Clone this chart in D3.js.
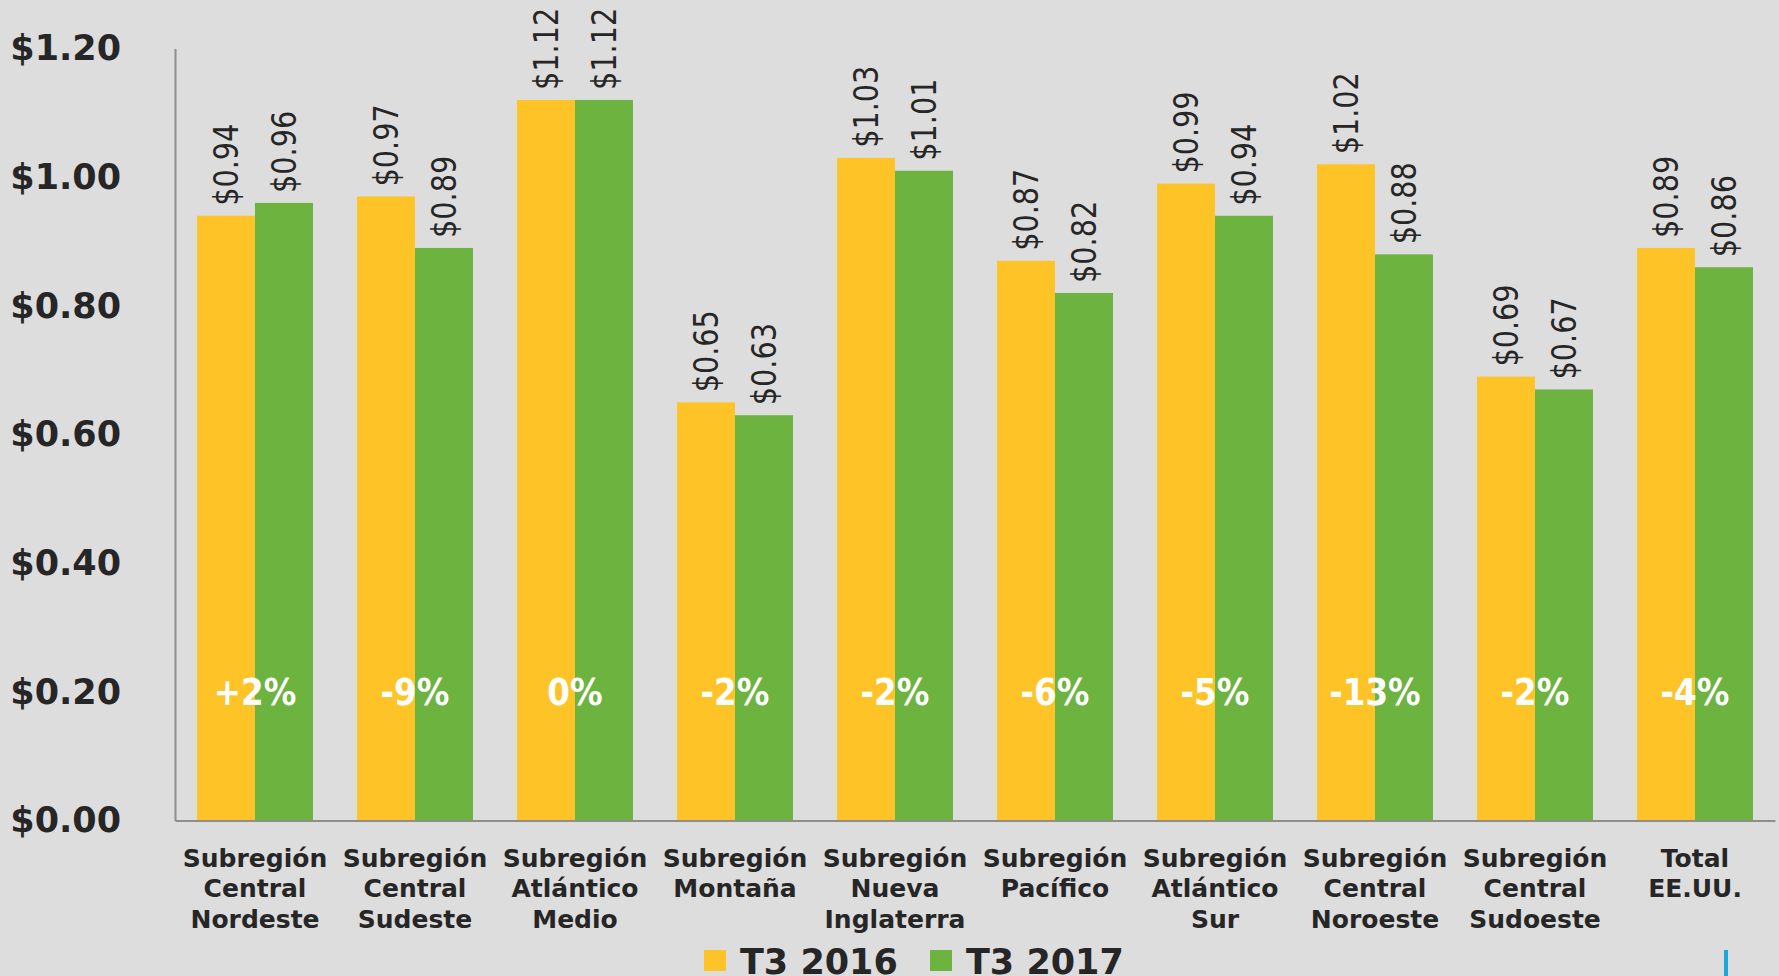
<!DOCTYPE html>
<html>
<head>
    <meta charset="utf-8">
    <title>Subregiones T3 2016 vs T3 2017</title>
    <script src="https://cdnjs.cloudflare.com/ajax/libs/d3/7.8.5/d3.min.js"></script>
    <style>
        body {
            margin: 0;
            background: #dddddd;
        }
        svg text {
            font-family: "DejaVu Sans", sans-serif;
            fill: #262626;
        }
        .y-axis text {
            font-size: 35px;
            font-weight: bold;
        }
        .x-axis text {
            font-size: 25px;
            font-weight: bold;
        }
        .axis-line {
            stroke: #8e8e8e;
            stroke-width: 2;
        }
        .value-label {
            font-size: 33px;
        }
        .pct-label {
            font-size: 37px;
            font-weight: bold;
            fill: #ffffff !important;
        }
        .legend-label {
            font-size: 35px;
            font-weight: bold;
        }
    </style>
</head>
<body>
    <div class="chart-container"></div>
    <script>
        // categories (line breaks as in the original labels)
        const categories = [
            "Subregión\nCentral\nNordeste",
            "Subregión\nCentral\nSudeste",
            "Subregión\nAtlántico\nMedio",
            "Subregión\nMontaña",
            "Subregión\nNueva\nInglaterra",
            "Subregión\nPacífico",
            "Subregión\nAtlántico\nSur",
            "Subregión\nCentral\nNoroeste",
            "Subregión\nCentral\nSudoeste",
            "Total\nEE.UU."
        ];
        const seriesNames = ["T3 2016", "T3 2017"];
        const values2016 = [0.94, 0.97, 1.12, 0.65, 1.03, 0.87, 0.99, 1.02, 0.69, 0.89];
        const values2017 = [0.96, 0.89, 1.12, 0.63, 1.01, 0.82, 0.94, 0.88, 0.67, 0.86];
        const changes = ["+2%", "-9%", "0%", "-2%", "-2%", "-6%", "-5%", "-13%", "-2%", "-4%"];
        const yTicks = [0, 0.2, 0.4, 0.6, 0.8, 1.0, 1.2];
        const colors = ["#fec427", "#6cb33f"];

        const W = 1779, H = 976;
        const plot = { left: 175, right: 1775, top: 48.5, bottom: 820.5 };

        const svg = d3.select('.chart-container')
            .append('svg')
            .attr('width', W)
            .attr('height', H)
            .style('display', 'block');

        svg.append('rect')
            .attr('width', W)
            .attr('height', H)
            .attr('fill', '#dddddd');

        const x = d3.scaleBand()
            .domain(categories)
            .range([plot.left, plot.right]);

        const xInner = d3.scaleBand()
            .domain(seriesNames)
            .range([0, x.bandwidth()])
            .paddingOuter(0.38);

        const y = d3.scaleLinear()
            .domain([0, 1.2])
            .range([plot.bottom, plot.top]);

        const rows = categories.map((c, i) => ({
            cat: c,
            change: changes[i],
            vals: [
                { key: seriesNames[0], v: values2016[i] },
                { key: seriesNames[1], v: values2017[i] }
            ]
        }));

        // bars
        const groups = svg.selectAll('.group')
            .data(rows)
            .enter()
            .append('g')
            .attr('class', 'group')
            .attr('transform', d => `translate(${x(d.cat)},0)`);

        groups.selectAll('rect')
            .data(d => d.vals)
            .enter()
            .append('rect')
            .attr('x', d => xInner(d.key))
            .attr('y', d => y(d.v))
            .attr('width', xInner.bandwidth())
            .attr('height', d => y(0) - y(d.v))
            .attr('fill', (d, i) => colors[i]);

        // rotated value labels (squeezed a little along the text, the original font is narrower)
        groups.selectAll('.value-label')
            .data(d => d.vals)
            .enter()
            .append('text')
            .attr('class', 'value-label')
            .attr('transform', d => `translate(${xInner(d.key) + xInner.bandwidth() / 2},${y(d.v) - 10}) rotate(-90) scale(0.87,1)`)
            .attr('dominant-baseline', 'central')
            .text(d => '$' + d3.format('.2f')(d.v));

        // change labels at the $0.20 level
        groups.append('text')
            .attr('class', 'pct-label')
            .attr('transform', `translate(${x.bandwidth() / 2},${y(0.2)}) scale(0.88,1)`)
            .attr('text-anchor', 'middle')
            .attr('dominant-baseline', 'central')
            .text(d => d.change);

        // y axis
        const yAxis = svg.append('g')
            .attr('class', 'y-axis')
            .attr('transform', `translate(${plot.left},0)`)
            .call(d3.axisLeft(y)
                .tickValues(yTicks)
                .tickSize(0)
                .tickPadding(54)
                .tickFormat(d => '$' + d3.format('.2f')(d)));
        yAxis.select('.domain').attr('class', 'domain axis-line').attr('stroke', '#8e8e8e');

        // x axis
        const xAxis = svg.append('g')
            .attr('class', 'x-axis')
            .attr('transform', `translate(0,${plot.bottom})`)
            .call(d3.axisBottom(x).tickSize(0).tickFormat(''));
        xAxis.select('.domain').attr('class', 'domain axis-line').attr('stroke', '#8e8e8e');

        xAxis.selectAll('.tick text').remove();
        xAxis.selectAll('.tick')
            .append('text')
            .attr('text-anchor', 'middle')
            .selectAll('tspan')
            .data(d => d.split('\n'))
            .enter()
            .append('tspan')
            .attr('x', 0)
            .attr('y', (d, i) => 46 + i * 30.5)
            .text(d => d);

        // legend
        const legend = svg.append('g')
            .attr('transform', 'translate(704,950)');
        const legendItems = legend.selectAll('g')
            .data(seriesNames)
            .enter()
            .append('g')
            .attr('transform', (d, i) => `translate(${i * 226},0)`);
        legendItems.append('rect')
            .attr('width', 22)
            .attr('height', 21)
            .attr('fill', (d, i) => colors[i]);
        legendItems.append('text')
            .attr('class', 'legend-label')
            .attr('x', 36)
            .attr('y', 24)
            .text(d => d);

        // small cyan mark in the lower right corner
        svg.append('rect')
            .attr('x', 1724)
            .attr('y', 950)
            .attr('width', 4)
            .attr('height', 26)
            .attr('fill', '#1aa7dc');
    </script>
</body>
</html>
